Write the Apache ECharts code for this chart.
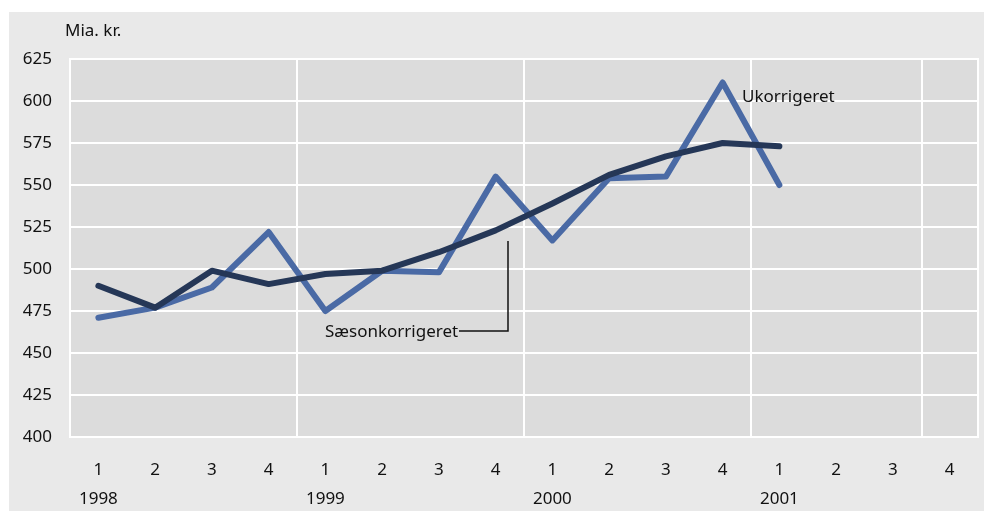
<!DOCTYPE html>
<html>
<head>
<meta charset="utf-8">
<script src="https://cdn.jsdelivr.net/npm/echarts@6/dist/echarts.min.js"></script>
<style>
  html, body { margin: 0; padding: 0; background: #ffffff; }
  #container { position: absolute; left: 9px; top: 12px; width: 975px; height: 499px; background: #e9e9e9; }
</style>
</head>
<body>
<div id="container"></div>
<script>
var quarters = ['1','2','3','4','1','2','3','4','1','2','3','4','1','2','3','4'];
var years = ['1998','','','','1999','','','','2000','','','','2001','','',''];
var ukorrigeret = [471, 477, 489, 522, 475, 499, 498, 555, 517, 554, 555, 611, 550];
var saesonkorrigeret = [490, 477, 499, 491, 497, 499, 510, 523, 539, 556, 567, 575, 573];
var yTicks = [400, 425, 450, 475, 500, 525, 550, 575, 600, 625];

var dom = document.getElementById("container");
var myChart = echarts.init(dom);
var fontFam = '"Noto Sans", sans-serif';
var option = {
	backgroundColor: 'transparent',
	animation: false,
	grid: {
		left: 61, top: 47, right: 6, bottom: 74,
		outerBoundsMode: 'none',
		show: true,
		backgroundColor: '#dcdcdc',
		borderColor: '#ffffff',
		borderWidth: 2
	},
	xAxis: {
		type: 'category',
		data: quarters.map(function(q, i) { return years[i] ? q + '\n' + years[i] : q; }),
		boundaryGap: true,
		axisLine: { show: false },
		axisTick: { show: false },
		axisLabel: {
			color: '#111', fontSize: 17, fontFamily: fontFam,
			margin: 19, lineHeight: 29, interval: 0,
			verticalAlign: 'top'
		},
		splitLine: { show: true, interval: 3, lineStyle: { color: '#ffffff', width: 2 } }
	},
	yAxis: {
		type: 'value',
		min: yTicks[0], max: yTicks[yTicks.length - 1], interval: 25,
		name: 'Mia. kr.',
		nameLocation: 'end',
		nameGap: 19,
		nameTextStyle: { color: '#111', fontSize: 17, fontFamily: fontFam, align: 'left', padding: [0, 0, 0, -5] },
		axisLine: { show: false },
		axisTick: { show: false },
		axisLabel: { color: '#111', fontSize: 17, fontFamily: fontFam, margin: 18 },
		splitLine: { lineStyle: { color: '#ffffff', width: 2 } }
	},
	series: [{
		name: 'Ukorrigeret',
		type: 'line',
		data: ukorrigeret,
		showSymbol: false,
		lineStyle: { color: '#4a6aa5', width: 6, cap: 'round', join: 'round' },
		z: 2
	}, {
		name: 'Sæsonkorrigeret',
		type: 'line',
		data: saesonkorrigeret,
		showSymbol: false,
		lineStyle: { color: '#253757', width: 6, cap: 'round', join: 'round' },
		z: 3
	}],
	graphic: [{
		type: 'text', left: 733, top: 77, z: 100,
		style: { text: 'Ukorrigeret', fill: '#111', font: '17px "Noto Sans", sans-serif' }
	}, {
		type: 'text', left: 316, top: 312, z: 100,
		style: { text: 'Sæsonkorrigeret', fill: '#111', font: '17px "Noto Sans", sans-serif' }
	}, {
		type: 'polyline', z: 100,
		shape: { points: [[450, 319], [499, 319], [499, 229]] },
		style: { stroke: '#111', lineWidth: 1.5, fill: null }
	}]
};
myChart.setOption(option, true);
</script>
</body>
</html>
